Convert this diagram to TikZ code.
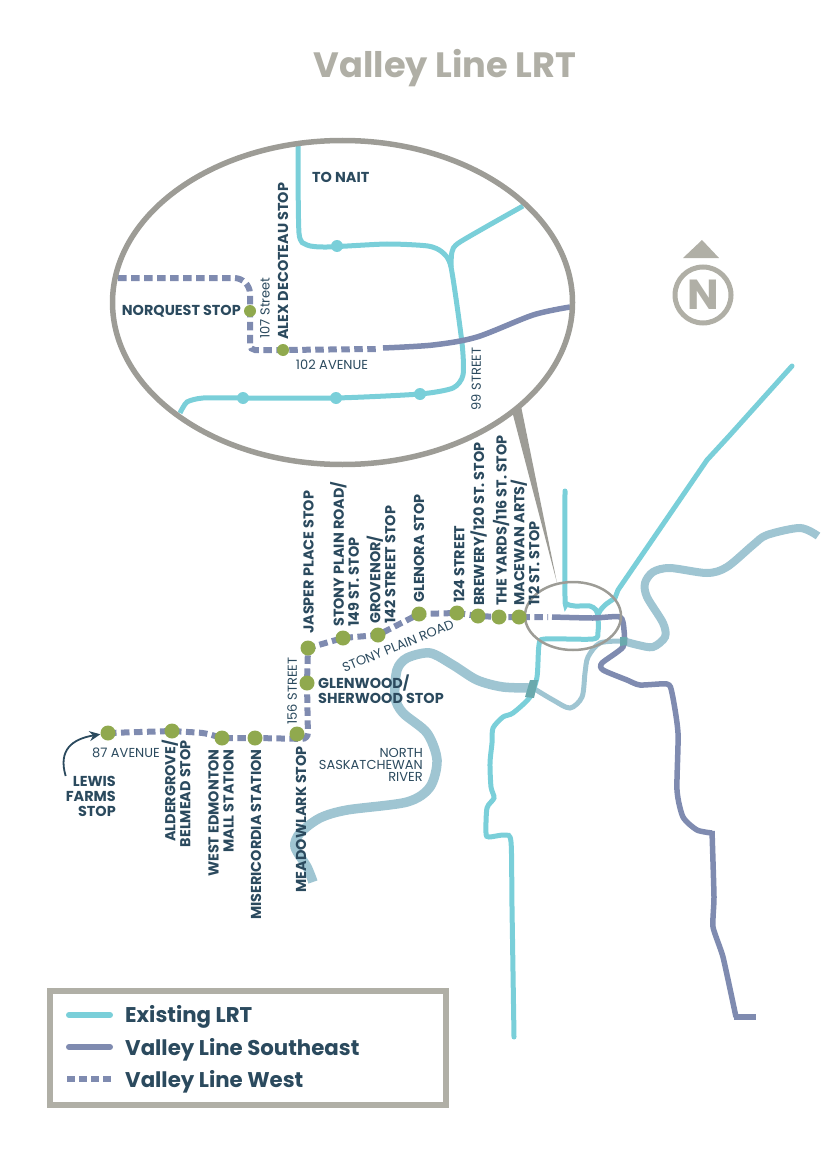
\documentclass[tikz,border=0pt]{standalone}
\usepackage{fontspec}
\setmainfont{Poppins}
\usetikzlibrary{backgrounds,arrows.meta}
\definecolor{lrtteal}{HTML}{7ACFD9}
\definecolor{valleyblue}{HTML}{7F8BB0}
\definecolor{stopgreen}{HTML}{90A94E}
\definecolor{riverblue}{HTML}{9FC5D2}
\definecolor{crossing}{HTML}{6AA9AD}
\definecolor{ringgrey}{HTML}{9D9C96}
\definecolor{framegrey}{HTML}{B0AFA6}
\definecolor{inkblue}{HTML}{2B4A5E}
\tikzset{
lrt/.style={line width=5pt,color=lrtteal,line cap=round},
southeast/.style={line width=5.5pt,color=valleyblue},
west/.style={line width=6pt,color=valleyblue,dash pattern=on 8.5pt off 4.5pt},
river/.style={line width=9.5pt,color=riverblue},
ring/.style={draw=ringgrey},
stop/.style={circle,fill=stopgreen,minimum size=15pt,inner sep=0pt},
smallstop/.style={circle,fill=stopgreen,minimum size=12pt,inner sep=0pt},
lrtstop/.style={circle,fill=lrtteal,minimum size=12pt,inner sep=0pt},
stoplabel/.style={text=inkblue,inner sep=0pt,font=\fontsize{14.4}{15}\selectfont\bfseries},
vstop/.style={stoplabel,rotate=90,anchor=west,align=left},
hstop/.style={stoplabel,rotate=90,anchor=east,align=right},
street/.style={text=inkblue,inner sep=0pt,font=\fontsize{13}{12}\selectfont},
keytext/.style={text=inkblue,inner sep=0pt,anchor=west,font=\fontsize{21.3}{22}\selectfont\bfseries},
pointer/.style={draw=inkblue,line width=1.8pt,-{Stealth[length=11pt,width=10pt]}},
}

\begin{document}
\begin{tikzpicture}[x=1pt,y=-1pt]
\useasboundingbox (0,0) rectangle (832,1158);

\node[text=framegrey,inner sep=0pt,font=\fontsize{35.2}{40}\selectfont\bfseries](title) at (445,68){Valley Line LRT};

% north arrow
\node[circle,draw=framegrey,line width=5pt,minimum size=56pt,inner sep=0pt,text=framegrey,font=\fontsize{42}{44}\selectfont\bfseries](north) at (703,295){N};
\fill[framegrey] (683,258) -- (702,240) -- (719,258) -- cycle;

% stops on the west line
\node[stop](lewis) at (108,733){};
\node[stop](aldergrove) at (172,731){};
\node[stop](west_edmonton) at (222,738){};
\node[stop](misericordia) at (255,738){};
\node[stop](meadowlark) at (297,734){};
\node[stop](glenwood) at (307,683){};
\node[stop](jasper) at (308,648){};
\node[stop](stony_plain) at (343,638){};
\node[stop](grovenor) at (378,635){};
\node[stop](glenora) at (419,614){};
\node[stop](street_124) at (457,613){};
\node[stop](brewery) at (478,616){};
\node[stop](yards) at (499,617){};
\node[stop](macewan) at (519,617){};
\coordinate (meadow_bend) at (308,739);
\coordinate (west_end) at (548,617);

% inset stops
\node[smallstop](norquest) at (250,311){};
\node[smallstop](alex) at (283,350){};
\node[lrtstop](inset_a) at (337,246){};
\node[lrtstop](inset_b) at (420,394){};
\node[lrtstop](inset_c) at (336,398){};
\node[lrtstop](inset_d) at (243,398){};
\coordinate (inset_west) at (118,278);
\coordinate (inset_join) at (376,349);

% stop labels
\node[vstop] at (308.5,634){JASPER PLACE STOP};
\node[vstop] at (344.5,627){STONY PLAIN ROAD/\\149 ST. STOP};
\node[vstop] at (381,624){GROVENOR/\\142 STREET STOP};
\node[vstop] at (419,603){GLENORA STOP};
\node[vstop] at (459,603){124 STREET};
\node[vstop] at (478.5,606){BREWERY/120 ST. STOP};
\node[vstop] at (501,606){THE YARDS/116 ST. STOP};
\node[vstop] at (525,606){MACEWAN ARTS/\\112 ST. STOP};
\node[stoplabel,anchor=west,align=left] at (318,689){GLENWOOD/\\SHERWOOD STOP};
\node[hstop] at (176,740){ALDERGROVE/\\BELMEAD STOP};
\node[hstop] at (221,749){WEST EDMONTON\\MALL STATION};
\node[hstop] at (256,749){MISERICORDIA STATION};
\node[hstop] at (301,746){MEADOWLARK STOP};
\node[stoplabel,anchor=north east,align=right](lewis_label) at (116,776){LEWIS\\FARMS\\STOP};
\node[stoplabel,anchor=west] at (312,177){TO NAIT};
\node[stoplabel,anchor=east] at (241,311){NORQUEST STOP};
\node[vstop] at (283,340){ALEX DECOTEAU STOP};

% street labels
\node[street] at (126,753){87 AVENUE};
\node[street,rotate=90] at (292,691){156 STREET};
\node[street,rotate=22] at (398,646){STONY PLAIN ROAD};
\node[street,anchor=east,align=right] at (423,765){NORTH\\SASKATCHEWAN\\RIVER};
\node[street,rotate=90] at (265,308){107 Street};
\node[street] at (332,365){102 AVENUE};
\node[street,rotate=90] at (476,379){99 STREET};

\draw [pointer] (lewis_label.north west) .. controls (58,750) and (72,739) .. (lewis);

\begin{scope}[on background layer]
% river
\draw [river,line width=8pt] plot[smooth,tension=0.5] coordinates {(818,536)(800,528)(767,535)(753,545)(727,567)(707,573)(670,568)(653,572)(645,583)(647,597)(663,623)(665,637)(653,647)(638,645)(623,641)};
\draw [river,line width=5pt] plot[smooth,tension=0.5] coordinates {(623,641)(600,643)(588,657)(585,673)(582,697)(570,708)(553,700)(533,688)};
\draw [river] plot[smooth,tension=0.5] coordinates {(533,688)(503,687)(477,680)(453,665)(430,653)(407,658)(397,670)(395,697)(403,713)(427,733)(437,760)(430,787)(407,802)(347,810)(320,818)(300,833)(295,847)(307,867)(313,882)};

% existing lrt
\draw [lrt] plot[smooth,tension=0.45] coordinates {(565,491)(565,597)(567,604)(575,606)(590,606)(596,610)(598,617)(598,632)(593,639)(545,639)(539,645)(537,677)(530,697)(513,713)(503,717)(493,728)(492,743)(490,763)(491,787)(494,798)(487,808)(486,833)(489,837)(505,835)(511,842)(512,907)(514,1037)};
\draw [lrt] (792,366) -- (730,435) -- (707,460) -- (618,590) -- (615,598) to[out=215,in=70] (598,615);

% valley line southeast
\draw [southeast] plot[smooth,tension=0.4] coordinates {(552,617)(593,618)(620,617)(624,630)(623,647)(602,663)(603,670)(627,680)(640,685)(667,684)(672,693)(678,733)(677,790)(683,817)(697,830)(712,833)};
\draw [southeast] plot[smooth,tension=0.3] coordinates {(712,831)(714,897)(713,927)(723,957)(736,1017)};
\draw [southeast] (734,1017) -- (756,1017);

% valley line west
\draw [west,rounded corners=6pt] (lewis.center) -- (aldergrove.center) -- (205,733) -- (west_edmonton.center) -- (misericordia.center) -- (meadow_bend) -- (glenwood.center) -- (jasper.center) -- (stony_plain.center) -- (grovenor.center) -- (glenora.center) -- (street_124.center) -- (brewery.center) -- (yards.center) -- (macewan.center) -- (west_end);

% river crossings
\fill[crossing] (530,680) -- (538,680) -- (534,698) -- (525,697) -- cycle;
\fill[crossing] (620,637) -- (627,637) -- (627,645) -- (620,646) -- cycle;

% inset lines
\draw [lrt,line cap=butt] plot[smooth,tension=0.4] coordinates {(298,145)(299,233)(307,245)(327,247)(387,244)(428,246)(442,252)(451,267)(462,343)(463,375)(453,388)(420,394)(336,398)(243,398)(203,398)(187,402)(180,413)};
\draw [lrt,line cap=butt] plot[smooth,tension=0.4] coordinates {(523,206)(460,242)(452,252)(451,267)};
\draw [southeast] plot[smooth,tension=0.5] coordinates {(383,348)(433,345)(477,337)(533,315)(570,307)};
\draw [west,rounded corners=16pt] (inset_west) -| (norquest.center) [rounded corners=5pt] |- (alex.center) -- (inset_join);

% rings
\fill[ringgrey] (512,411) -- (521,406) -- (557,583) -- cycle;
\draw [ring,line width=5.5pt] (342.5,302.5) ellipse (230 and 162);
\draw [ring,line width=2.5pt] (573,616) ellipse (48 and 34);
\end{scope}

% legend
\draw[framegrey,line width=6pt,fill=white] (50,991) rectangle (446,1105);
\coordinate (key_lrt) at (69,1015);
\coordinate (key_se) at (69,1047);
\coordinate (key_west) at (67,1079);
\node[keytext] at (125,1017){Existing LRT};
\node[keytext] at (125,1050){Valley Line Southeast};
\node[keytext] at (125,1081.5){Valley Line West};
\draw [lrt,line width=6pt] (key_lrt) -- +(41,0);
\draw [southeast,line width=6pt,line cap=round] (key_se) -- +(41,0);
\draw [west,dash pattern=on 8pt off 4pt] (key_west) -- +(45,0);
\end{tikzpicture}
\end{document}
